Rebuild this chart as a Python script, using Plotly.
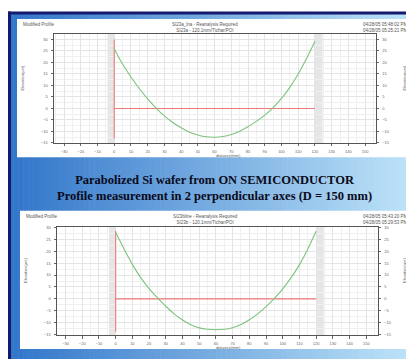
import plotly.graph_objects as go

# page body adds an 8px margin; the figure fills the rest of the 414x361 window
OFF = 8
W, H = 414 - OFF, 361 - OFF

# ---- data ----
x_ticks = list(range(-30, 151, 10))
y_ticks = list(range(-15, 31, 5))

prof_x = [0, 5, 10, 15, 20, 25, 30, 35, 40, 45, 50, 55, 60, 65, 70, 75, 80, 85, 90, 95, 100, 105, 110, 115, 120]
prof1_y = [26, 19.3, 13.7, 8.7, 4.2, 0.2, -3.2, -6.1, -8.4, -10.3, -11.5, -12.3, -12.5, -12.2, -11.3, -9.9, -7.9,
           -5.6, -2.9, 0.4, 4.4, 9.2, 15.0, 21.7, 29.2]
prof2_y = [28, 21, 14.5, 8.9, 4.3, 0.5, -3.1, -6.3, -8.9, -10.9, -12.2, -12.8, -13, -12.8, -12.1, -10.8, -8.8,
           -6.3, -3.3, 0.2, 4.2, 8.9, 14.4, 21.0, 28.5]
ref_h_x = [0, 120]
ref_h_y = [0, 0]
ref_v_x = [0, 0]
ref_v1_y = [-13, 30]
ref_v2_y = [-13.8, 28.5]
band_left = [-4, 0]
band_right = [120, 124.5]

panel_titles = ["SI23a_lna - Reanalysis Required<br>SI23a - 120.1mm/Tichar/POI",
                "SI23bline - Reanalysis Required<br>SI23b - 120.1mm/Tichar/POI"]
panel_dates = ["04/28/05 05:48:02 PM<br>04/28/05 05:25:21 PM",
               "04/28/05 05:43:20 PM<br>04/28/05 05:29:53 PM"]
main_title = ("<b>Parabolized Si wafer from ON SEMICONDUCTOR</b><br>"
              "<b>Profile measurement in 2 perpendicular axes (D = 150 mm)</b>")

# ---- helpers (window pixel -> paper) ----
def px(x):
    return (x - OFF) / W

def py(y):
    return 1 - (y - OFF) / H

fig = go.Figure()

shapes = []
# gradient background
N = 80
x0, x1 = OFF, 414
for i in range(N):
    t = i / (N - 1)
    r = int(50 + (190 - 50) * t)
    g = int(118 + (228 - 118) * t)
    b = int(202 + (249 - 202) * t)
    xa = x0 + (x1 - x0) * i / N
    xb = x0 + (x1 - x0) * (i + 1) / N + 0.6
    shapes.append(dict(type="rect", xref="paper", yref="paper", layer="below",
                       x0=px(xa), x1=min(px(xb), 1), y0=0, y1=py(10),
                       fillcolor=f"rgb({r},{g},{b})", line=dict(width=0)))
# navy frame
shapes.append(dict(type="rect", xref="paper", yref="paper", layer="below",
                   x0=0, x1=1, y0=py(12.5), y1=py(9.5), fillcolor="#151a6e", line=dict(width=0)))
shapes.append(dict(type="rect", xref="paper", yref="paper", layer="below",
                   x0=0, x1=px(11), y0=0, y1=py(9.5), fillcolor="#151a6e", line=dict(width=0)))
# white panels
panels = [(17, 17, 412, 157), (20, 211, 412, 351)]
for (a, b, c, d) in panels:
    shapes.append(dict(type="rect", xref="paper", yref="paper", layer="below",
                       x0=px(a), x1=px(c), y0=py(d), y1=py(b), fillcolor="white", line=dict(width=0)))

# plot areas
areas = [(54, 32, 376, 142.5), (57, 227, 378, 337)]
xranges = [[-36, 156.5], [-35.1, 157]]
yranges = [[-15, 32.5], [-15.3, 30.4]]
profiles = [prof1_y, prof2_y]
vlines = [ref_v1_y, ref_v2_y]

tickfont = dict(family="Liberation Sans", size=4, color="#666666")
layout_axes = {}
for k in range(2):
    xa_name = "x" if k == 0 else "x2"
    ya_name = "y" if k == 0 else "y2"
    yr_name = "y3" if k == 0 else "y4"
    l, t, r, b = areas[k]
    xd = [px(l), px(r)]
    yd = [py(b), py(t)]
    common = dict(showline=True, linecolor="#555555", linewidth=0.8, ticks="outside", ticklen=2.5,
                  tickcolor="#666666", tickwidth=0.6, tickfont=tickfont, zeroline=False,
                  showgrid=True, gridcolor="#e4e4e4", gridwidth=0.5, ticklabelstandoff=2)
    layout_axes["xaxis" + ("" if k == 0 else "2")] = dict(
        domain=xd, range=xranges[k], anchor=ya_name, tickvals=x_ticks, mirror=True,
        minor=dict(dtick=5, showgrid=True, gridcolor="#f0f0f0", gridwidth=0.5), **common)
    layout_axes["yaxis" + ("" if k == 0 else "2")] = dict(
        domain=yd, range=yranges[k], anchor=xa_name, tickvals=y_ticks, mirror=True,
        minor=dict(dtick=2.5, showgrid=True, gridcolor="#f0f0f0", gridwidth=0.5), **common)
    c2 = dict(common)
    c2["showgrid"] = False
    layout_axes["yaxis" + ("3" if k == 0 else "4")] = dict(
        domain=yd, range=yranges[k], anchor=xa_name, overlaying=ya_name, side="right",
        tickvals=y_ticks, **c2)

    # gray exclusion bands
    for band in (band_left, band_right):
        shapes.append(dict(type="rect", xref=xa_name, yref=ya_name + " domain", layer="below",
                           x0=band[0], x1=band[1], y0=0, y1=1, fillcolor="#e6e6e6", line=dict(width=0)))

    fig.add_trace(go.Scatter(x=ref_h_x, y=ref_h_y, mode="lines", xaxis=xa_name, yaxis=ya_name,
                             line=dict(color="#f07878", width=1.1), showlegend=False, hoverinfo="skip"))
    fig.add_trace(go.Scatter(x=ref_v_x, y=vlines[k], mode="lines", xaxis=xa_name, yaxis=ya_name,
                             line=dict(color="#f07878", width=1.1), showlegend=False, hoverinfo="skip"))
    fig.add_trace(go.Scatter(x=prof_x, y=profiles[k], mode="lines", xaxis=xa_name, yaxis=ya_name,
                             line=dict(color="#7cc47c", width=1.1, shape="spline"), showlegend=False,
                             hoverinfo="skip"))
    fig.add_trace(go.Scatter(x=[None], y=[None], xaxis=xa_name, yaxis=yr_name, showlegend=False))

annotations = []
small = dict(family="Liberation Sans", size=4.5, color="#555555")
for k in range(2):
    pl, pt, pr, pb = panels[k]
    l, t, r, b = areas[k]
    annotations.append(dict(text="Modified Profile", xref="paper", yref="paper", x=px(pl + 4), y=py(pt + 1),
                            xanchor="left", yanchor="top", showarrow=False, font=small))
    annotations.append(dict(text=panel_titles[k], xref="paper", yref="paper", x=px(205), y=py(pt + 1),
                            xanchor="center", yanchor="top", showarrow=False, font=small, align="center"))
    annotations.append(dict(text=panel_dates[k], xref="paper", yref="paper", x=px(410), y=py(pt + 1),
                            xanchor="right", yanchor="top", showarrow=False, font=small, align="right"))
    annotations.append(dict(text="distance(mm)", xref="paper", yref="paper", x=px(228), y=py(b + 8),
                            xanchor="center", yanchor="top", showarrow=False, font=dict(small, size=4)))
    annotations.append(dict(text="Elevation(µm)", xref="paper", yref="paper", x=px(pl + 5), y=py((t + b) / 2 - 10),
                            xanchor="center", yanchor="middle", showarrow=False, font=dict(small, size=4),
                            textangle=-90))
    annotations.append(dict(text="Elevation(µm)", xref="paper", yref="paper", x=px(404), y=py((t + b) / 2 - 10),
                            xanchor="center", yanchor="middle", showarrow=False, font=dict(small, size=4),
                            textangle=-90))

annotations.append(dict(text=main_title, xref="paper", yref="paper", x=px(214), y=py(188),
                        xanchor="center", yanchor="middle", showarrow=False, align="center",
                        font=dict(family="Liberation Serif", size=12.5, color="#0a0a1a")))

fig.update_layout(width=W, height=H, margin=dict(l=0, r=0, t=0, b=0),
                  paper_bgcolor="white", plot_bgcolor="white",
                  shapes=shapes, annotations=annotations, showlegend=False, **layout_axes)

fig.write_html("out.html")
